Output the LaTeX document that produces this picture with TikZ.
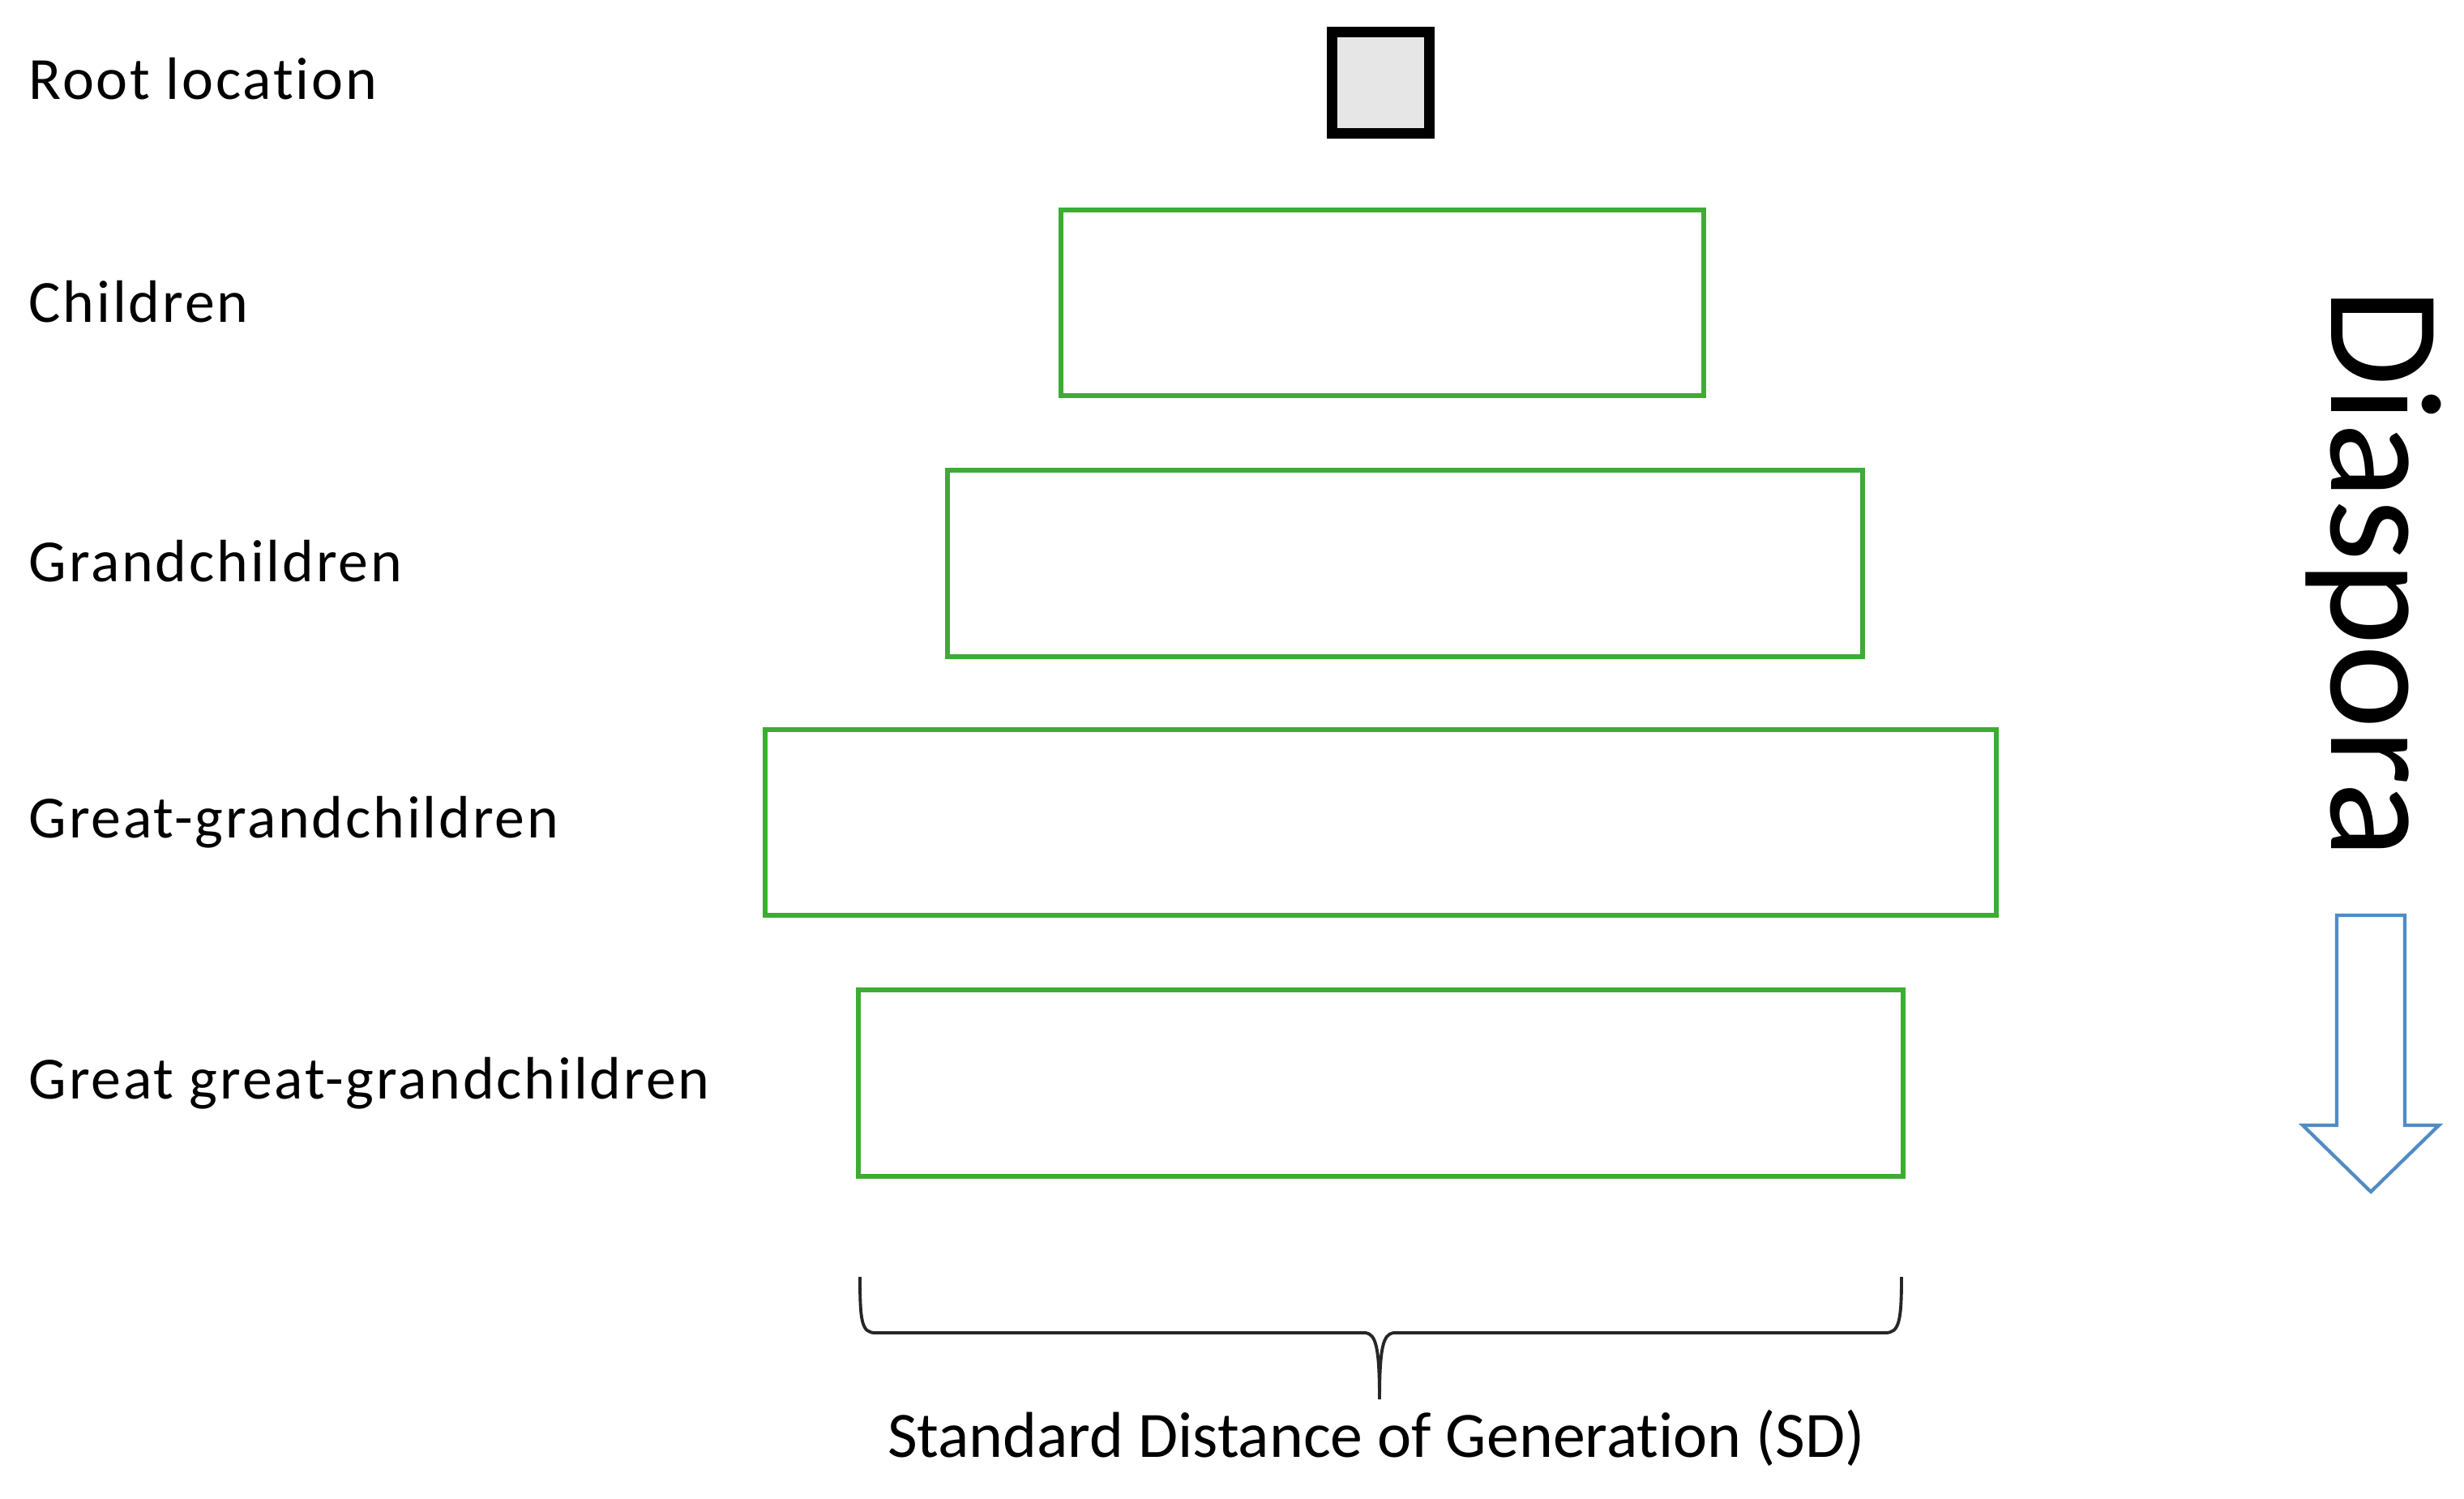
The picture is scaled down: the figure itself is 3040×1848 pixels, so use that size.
\documentclass[tikz,border=0pt]{standalone}
\usepackage{fontspec}
\setmainfont{Carlito}[Ligatures=NoCommon,RawFeature={-clig;-dlig}]
\newfontfamily\labelfont{Carlito}[Ligatures=NoCommon,RawFeature={-clig;-dlig},LetterSpace=3.8]
\definecolor{boxgreen}{RGB}{60,172,50}
\definecolor{rootgray}{RGB}{230,230,230}
\definecolor{arrowblue}{RGB}{80,140,195}
\begin{document}
\begin{tikzpicture}[x=0.01cm,y=-0.01cm,
  genbox/.style={draw=boxgreen,line width=1.7pt,minimum height=2.29cm,inner sep=0pt},
  rootbox/.style={draw=black,fill=rootgray,line width=3.7pt,minimum width=1.19cm,minimum height=1.24cm,inner sep=0pt},
  genlabel/.style={anchor=west,inner sep=0pt,font=\labelfont\fontsize{21}{24}\selectfont}]
\useasboundingbox[fill=white] (0,0) rectangle (3040,1848);
\node[rootbox] (root) at (1703.5,102) {};
\node[genbox,minimum width=7.93cm] (b1) at (1705.5,373.5) {};
\node[genbox,minimum width=11.29cm] (b2) at (1733.5,695) {};
\node[genbox,minimum width=15.19cm] (b3) at (1703.5,1014.5) {};
\node[genbox,minimum width=12.89cm] (b4) at (1703.5,1336) {};
\node[genlabel] (l0) at (35,97) {Root location};
\node[genlabel] (l1) at (35,372) {Children};
\node[genlabel] (l2) at (35,692) {Grandchildren};
\node[genlabel] (l3) at (35,1014) {Great-grandchildren};
\node[genlabel] (l4) at (35,1336) {Great great-grandchildren};
\node[rotate=-90,inner sep=0pt,font=\fontsize{56}{60}\selectfont] (dia) at (2928,707) {Diaspora};
\draw[arrowblue,fill=white,line width=1.2pt,line join=miter]
  (2883,1129) -- (2967,1129) -- (2967,1388) -- (3009,1388) -- (2925,1470) -- (2841,1388) -- (2883,1388) -- cycle;
\coordinate (bl) at (1061,1575);
\coordinate (br) at (2346,1575);
\coordinate (bt) at (1702,1726);
\draw[black!85,line width=1.1pt]
  (bl) .. controls (1061,1630) and (1063,1644) .. (1080,1644) -- (1685,1644)
  .. controls (1697,1646) and (1702,1660) .. (bt)
  .. controls (1702,1660) and (1707,1646) .. (1719,1644) -- (2326,1644)
  .. controls (2343,1644) and (2346,1630) .. (br);
\node[inner sep=0pt,font=\fontsize{22.7}{26}\selectfont] (sd) at (1698,1774) {Standard Distance of Generation (SD)};
\end{tikzpicture}
\end{document}
